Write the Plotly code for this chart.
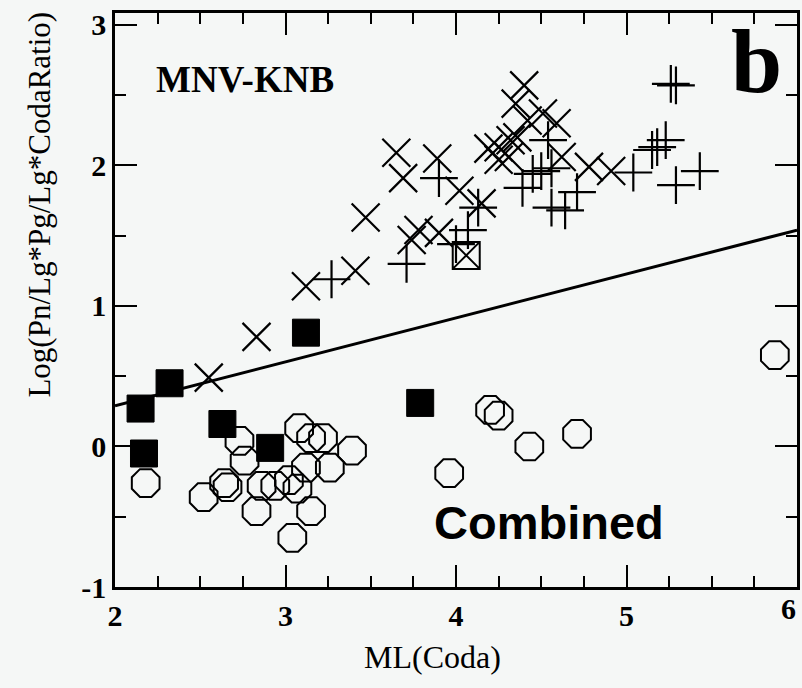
import plotly.graph_objects as go

# Open octagons
oct_x = [2.18, 2.52, 2.64, 2.66, 2.73, 2.76, 2.83, 2.86, 2.94, 3.02, 3.07, 3.08, 3.15, 3.22,
         3.12, 3.26, 3.39, 3.15, 3.04, 3.96, 4.20, 4.25, 4.43, 4.71, 5.87]
oct_y = [-0.26, -0.36, -0.26, -0.29, 0.04, -0.10, -0.46, -0.28, -0.28, -0.24, -0.30, 0.13, 0.06, 0.06,
         -0.15, -0.15, -0.03, -0.46, -0.65, -0.19, 0.26, 0.22, 0.00, 0.09, 0.65]

# Filled squares
sq_x = [2.15, 2.32, 2.17, 2.63, 2.91, 3.12, 3.79]
sq_y = [0.27, 0.45, -0.05, 0.16, -0.01, 0.81, 0.31]

# Boxed X
bx_x = [4.06]
bx_y = [1.36]

# X markers
x_x = [2.55, 2.83, 3.12, 3.41, 3.47, 3.65, 3.69, 3.89, 4.02, 3.78, 3.74, 3.90, 4.15,
       4.40, 4.35, 4.51, 4.59, 4.42, 4.25, 4.32, 4.19, 4.25, 4.31, 4.36, 4.62, 4.78, 4.91]
x_y = [0.49, 0.78, 1.14, 1.25, 1.63, 2.09, 1.91, 2.05, 1.82, 1.54, 1.47, 1.52, 1.73,
       2.57, 2.44, 2.37, 2.30, 2.32, 2.13, 2.18, 2.12, 2.04, 2.06, 2.20, 2.06, 1.99, 1.96]

# Plus markers
p_x = [3.27, 3.71, 3.90, 4.00, 4.07, 4.13, 4.54, 4.56, 4.50, 4.45, 4.39, 4.71, 4.56, 4.64,
       5.04, 5.15, 5.18, 5.23, 5.26, 5.29, 5.43, 5.29]
p_y = [1.19, 1.30, 1.91, 1.44, 1.54, 1.70, 2.18, 1.98, 1.96, 1.94, 1.84, 1.81, 1.70, 1.68,
       1.95, 2.11, 2.13, 2.18, 2.58, 2.57, 1.96, 1.86]

# Fit line
line_x = [2.0, 6.0]
line_y = [0.29, 1.54]

x_ticks = [2, 3, 4, 5, 6]
y_ticks = [-1, 0, 1, 2, 3]

fig = go.Figure()
fig.add_trace(go.Scatter(x=line_x, y=line_y, mode="lines",
                         line=dict(color="black", width=3), hoverinfo="skip"))
fig.add_trace(go.Scatter(x=oct_x, y=oct_y, mode="markers",
                         marker=dict(symbol="octagon-open", size=30, color="black",
                                     line=dict(width=2, color="black"))))
fig.add_trace(go.Scatter(x=sq_x, y=sq_y, mode="markers",
                         marker=dict(symbol="square", size=27, color="black",
                                     line=dict(width=1, color="black"))))
fig.add_trace(go.Scatter(x=bx_x, y=bx_y, mode="markers",
                         marker=dict(symbol="square-x-open", size=27, color="black",
                                     line=dict(width=2, color="black"))))
fig.add_trace(go.Scatter(x=x_x, y=x_y, mode="markers",
                         marker=dict(symbol="x-thin-open", size=28, color="black",
                                     line=dict(width=2.2, color="black"))))
fig.add_trace(go.Scatter(x=p_x, y=p_y, mode="markers",
                         marker=dict(symbol="cross-thin-open", size=27, color="black",
                                     line=dict(width=2.2, color="black"))))

bg = "#f5f7f6"
tickfont = dict(family="Liberation Serif, serif", size=30, color="black")
fig.update_layout(
    width=802, height=688,
    margin=dict(l=115, r=2, t=13, b=101),
    paper_bgcolor=bg, plot_bgcolor=bg,
    showlegend=False,
    xaxis=dict(range=[2, 6], tickvals=x_ticks, ticktext=[f"<b>{v}</b>" for v in x_ticks],
               ticks="inside", ticklen=22, tickwidth=2, tickcolor="black",
               showline=True, linewidth=2.5, linecolor="black", mirror="ticks",
               showgrid=False, zeroline=False, tickfont=tickfont,
               minor=dict(dtick=0.25, ticks="inside", ticklen=11, tickwidth=2, tickcolor="black", showgrid=False)),
    yaxis=dict(range=[-1, 3.085], tickvals=y_ticks, ticktext=["<b>-1</b>" if v < 0 else f"<b>{v}</b>" for v in y_ticks],
               ticks="inside", ticklen=22, tickwidth=2, tickcolor="black",
               showline=True, linewidth=2.5, linecolor="black", mirror="ticks",
               showgrid=False, zeroline=False, tickfont=tickfont,
               minor=dict(dtick=0.5, ticks="inside", ticklen=11, tickwidth=2, tickcolor="black", showgrid=False)),
    annotations=[
        dict(text="<b>6</b>", x=x_ticks[-1], y=0, xref="x", yref="paper", xanchor="right", yanchor="top",
             xshift=1, yshift=-3, showarrow=False, font=tickfont),
        dict(text="<b>MNV-KNB</b>", x=2.23, y=2.615, xref="x", yref="y", xanchor="left", yanchor="middle",
             showarrow=False, font=dict(family="Liberation Serif, serif", size=37, color="black")),
        dict(text="<b>b</b>", x=5.76, y=2.74, xref="x", yref="y", xanchor="center", yanchor="middle",
             showarrow=False, font=dict(family="Liberation Serif, serif", size=92, color="black")),
        dict(text="<b>Combined</b>", x=4.545, y=-0.54, xref="x", yref="y", xanchor="center", yanchor="middle",
             showarrow=False, font=dict(family="Liberation Sans, Arial, sans-serif", size=47, color="black")),
        dict(text="Log(Pn/Lg*Pg/Lg*CodaRatio)", x=-0.112, y=(587 - 205) / 574, xref="paper", yref="paper",
             xanchor="center", yanchor="middle", textangle=-90, showarrow=False,
             font=dict(family="Liberation Serif, serif", size=31, color="black")),
        dict(text="ML(Coda)", x=(434 - 115) / 685, y=(587 - 657) / 574, xref="paper", yref="paper",
             xanchor="center", yanchor="middle", showarrow=False,
             font=dict(family="Liberation Serif, serif", size=32, color="black")),
    ],
)

fig.write_html("out.html", config={"displayModeBar": False},
               post_script="document.body.style.margin='0';document.body.style.padding='0';")
